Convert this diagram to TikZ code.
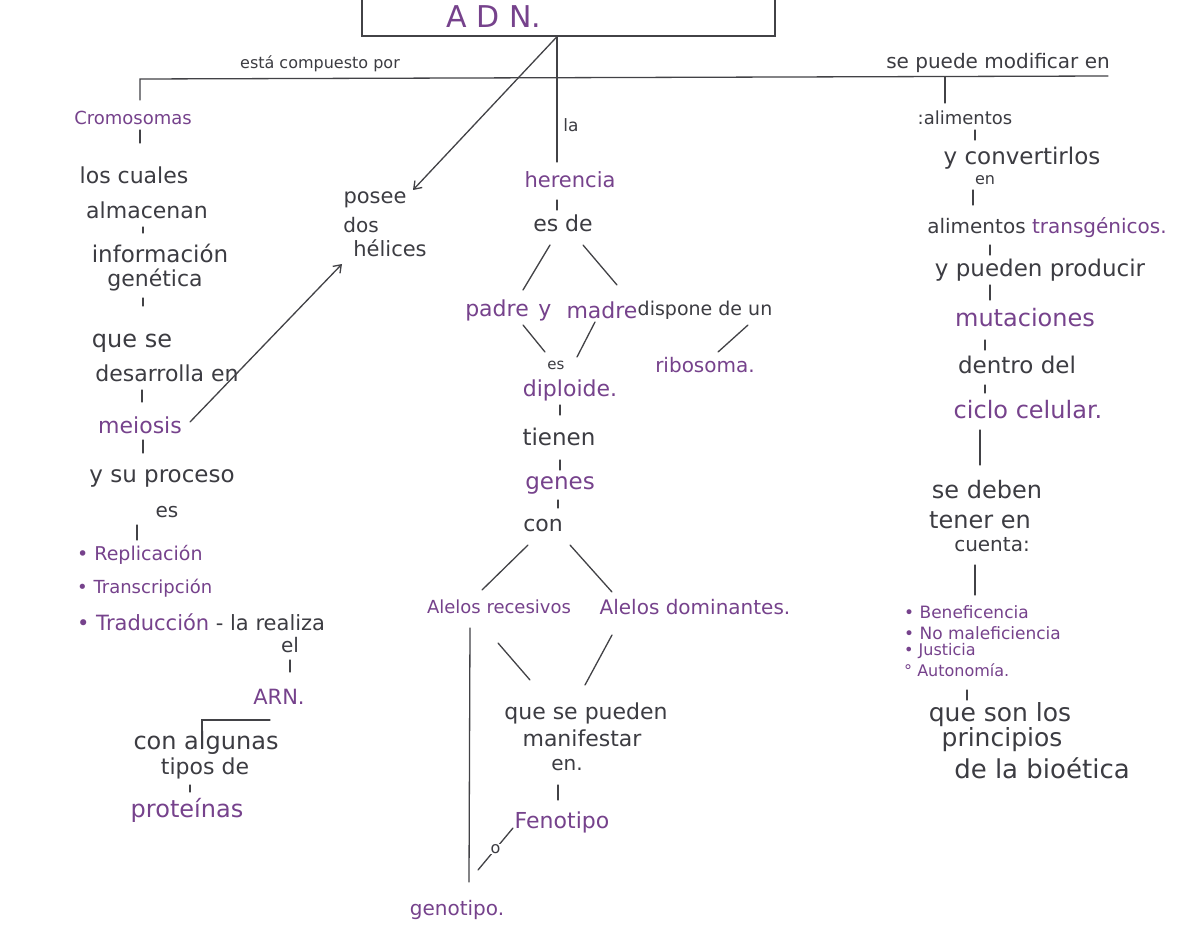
\documentclass[tikz,border=0pt]{standalone}
\usepackage{fontspec}
\setmainfont{DejaVu Sans}
\usetikzlibrary{arrows.meta,calc}
\definecolor{purp}{RGB}{118,66,140}
\definecolor{ink}{RGB}{60,60,66}
\definecolor{pen}{RGB}{66,66,70}
\begin{document}
\begin{tikzpicture}[x=1pt,y=-1pt,
  cp/.style={text=purp,font=\fontsize{#1}{#1}\selectfont,inner sep=1pt},
  cp/.default=20,
  lk/.style={text=ink,font=\fontsize{#1}{#1}\selectfont,inner sep=1pt},
  lk/.default=20,
  ln/.style={draw=pen,line width=1.3pt,line cap=round},
  arr/.style={ln,-{Straight Barb[length=7pt,width=10pt]}}]
\fill[white] (0,0) rectangle (1197,928);
\useasboundingbox (0,0) rectangle (1197,928);

% ---------- title box ----------
\node[draw=pen,line width=1.3pt,minimum width=413pt,minimum height=70pt,inner sep=0pt] (adnbox) at (568.5,1) {};
\node[cp=30] (adn) at (494,17) {A D N.};
\coordinate (adnfoot) at ($(adnbox.south)+(-11.5,0)$);

% ---------- branch labels ----------
\node[lk=16] (comp) at (320,64) {está compuesto por};
\node[lk=20] (modif) at (998,63) {se puede modificar en};

% ---------- left column ----------
\node[cp=18] (crom) at (133,118) {Cromosomas};
\node[lk=22] (cuales) at (134,175) {los cuales};
\node[lk=22] (almac) at (147,210) {almacenan};
\node[lk=23] (info) at (160,253) {información};
\node[lk=22] (genet) at (155,280) {genética};
\node[lk=24] (quese) at (132,343) {que se};
\node[lk=22] (desarr) at (167,373) {desarrolla en};
\node[cp=22] (meio) at (140,425) {meiosis};
\node[lk=23] (proc) at (162,478) {y su proceso};
\node[lk=20] (esL) at (167,512) {es};
\node[cp=19,anchor=west] (rep) at (76,555) {• Replicación};
\node[cp=18,anchor=west] (trs) at (76,588) {• Transcripción};
\node[cp=21,anchor=west] (trad) at (76,622) {• Traducción \textcolor{ink}{- la realiza}};
\node[lk=20] (el) at (290,645) {el};
\node[cp=21] (arn) at (279,697) {ARN.};
\node[lk=24] (alg) at (206,743) {con algunas};
\node[lk=22] (tipos) at (205,768) {tipos de};
\node[cp=24] (prot) at (187,810) {proteínas};
\node[lk=21] (posee) at (375,200) {posee};
\node[lk=20] (dos) at (361,225) {dos};
\node[lk=21] (hel) at (390,248) {hélices};

% ---------- middle column ----------
\node[lk=17] (la) at (571,125) {la};
\node[cp=21] (her) at (570,180) {herencia};
\node[lk=22] (esde) at (563,223) {es de};
\node[cp=22] (padre) at (497,310) {padre};
\node[cp=22] (yy) at (545,313) {y};
\node[cp=22] (madre) at (602,310) {madre};
\node[lk=19] (disp) at (705,310) {dispone de un};
\node[lk=15] (esM) at (556,365) {es};
\node[cp=22] (dipl) at (570,390) {diploide.};
\node[cp=20] (ribo) at (705,365) {ribosoma.};
\node[lk=23] (tien) at (559,437) {tienen};
\node[cp=23] (genes) at (560,485) {genes};
\node[lk=22] (con) at (543,525) {con};
\node[cp=18] (rec) at (499,607) {Alelos recesivos};
\node[cp=20] (dom) at (695,607) {Alelos dominantes.};
\node[lk=22] (qsp) at (586,713) {que se pueden};
\node[lk=22] (manif) at (582,738) {manifestar};
\node[lk=20] (enM) at (567,765) {en.};
\node[cp=22] (fen) at (562,822) {Fenotipo};
\node[cp=20] (geno) at (457,910) {genotipo.};

% ---------- right column ----------
\node[lk=18] (alim) at (965,118) {:alimentos};
\node[lk=23] (conv) at (1022,158) {y convertirlos};
\node[lk=16] (enR) at (985,180) {en};
\node[lk=20] (trans) at (1047,228) {alimentos \textcolor{purp}{transgénicos.}};
\node[lk=23] (prod) at (1040,270) {y pueden producir};
\node[cp=24] (mut) at (1025,318) {mutaciones};
\node[lk=23] (dentro) at (1017,365) {dentro del};
\node[cp=24] (ciclo) at (1028,410) {ciclo celular.};
\node[lk=24] (sedeb) at (987,490) {se deben};
\node[lk=24] (tener) at (980,520) {tener en};
\node[lk=20] (cuenta) at (992,545) {cuenta:};
\node[cp=17,anchor=west] (benef) at (903,612) {• Beneficencia};
\node[cp=17,anchor=west] (nomal) at (903,633) {• No maleficiencia};
\node[cp=16,anchor=west] (just) at (903,651) {• Justicia};
\node[cp=16,anchor=west] (auto) at (903,670) {° Autonomía.};
\node[lk=25] (qsl) at (1000,715) {que son los};
\node[lk=25] (princ) at (1002,740) {principios};
\node[lk=26] (bioet) at (1042,768) {de la bioética};

% ---------- connectors from the title ----------
\coordinate (hleft) at ($(crom)+(7,-39)$);
\coordinate (hright) at ($(modif)+(110,13)$);
\draw[ln] (hright) -- (hleft) -- ($(crom)+(7,-18)$);
\draw[ln] ($(alim)+(-20,-41)$) -- ($(alim)+(-20,-15)$);
\draw[ln] (adnfoot) -- ($(her)+(-13,-18)$);
\draw[arr] (adnfoot) -- ($(posee)+(38,-10)$);

% ---------- left column links ----------
\draw[ln] ($(crom)+(7,12)$) -- ($(cuales)+(6,-32)$);
\draw[ln] ($(almac)+(-4,17)$) -- ($(info)+(-17,-20)$);
\draw[ln] ($(genet)+(-12,18)$) -- ($(quese)+(11,-37)$);
\draw[ln] ($(desarr)+(-25,17)$) -- ($(meio)+(2,-23)$);
\draw[ln] ($(meio)+(3,15)$) -- ($(proc)+(-19,-25)$);
\draw[ln] ($(esL)+(-30,13)$) -- ($(rep.west)+(61,-15)$);
\draw[ln] ($(el)+(0,15)$) -- ($(arn)+(11,-25)$);
\draw[ln] ($(arn)+(-9,23)$) -- ($(alg)+(-4,-23)$) -- ($(alg)+(-4,-12)$);
\draw[ln] ($(tipos)+(-15,17)$) -- ($(prot)+(3,-18)$);
\draw[arr] ($(meio)+(50,-3)$) -- ($(hel)+(-48,16)$);

% ---------- middle column links ----------
\draw[ln] ($(her)+(-13,20)$) -- ($(esde)+(-6,-13)$);
\draw[ln] ($(esde)+(-13,22)$) -- ($(padre)+(26,-20)$);
\draw[ln] ($(esde)+(20,22)$) -- ($(madre)+(15,-25)$);
\draw[ln] ($(padre)+(26,15)$) -- ($(dipl)+(-25,-38)$);
\draw[ln] ($(madre)+(-7,12)$) -- ($(dipl)+(7,-33)$);
\draw[ln] ($(disp)+(43,15)$) -- ($(ribo)+(13,-13)$);
\draw[ln] ($(dipl)+(-10,15)$) -- ($(tien)+(1,-22)$);
\draw[ln] ($(tien)+(1,23)$) -- ($(genes)+(0,-15)$);
\draw[ln] ($(genes)+(-2,15)$) -- ($(con)+(15,-17)$);
\draw[ln] ($(con)+(-15,20)$) -- ($(rec)+(-17,-17)$);
\draw[ln] ($(con)+(27,20)$) -- ($(dom)+(-83,-15)$);
\draw[ln] ($(rec)+(-1,36)$) -- ($(qsp)+(-56,-33)$);
\draw[ln] ($(dom)+(-83,28)$) -- ($(qsp)+(-1,-28)$);
\draw[ln] ($(rec)+(-29,21)$) -- ($(geno)+(12,-28)$);
\draw[ln] ($(enM)+(-9,20)$) -- ($(fen)+(-4,-22)$);
\draw[ln] ($(geno)+(21,-40)$) -- node[lk=16,fill=white,inner sep=0.5pt] (oo) {o} ($(fen)+(-49,6)$);

% ---------- right column links ----------
\draw[ln] ($(alim)+(10,12)$) -- ($(conv)+(-47,-18)$);
\draw[ln] ($(enR)+(-12,10)$) -- ($(trans)+(-74,-23)$);
\draw[ln] ($(trans)+(-57,17)$) -- ($(prod)+(-50,-15)$);
\draw[ln] ($(prod)+(-50,15)$) -- ($(mut)+(-35,-18)$);
\draw[ln] ($(mut)+(-40,22)$) -- ($(dentro)+(-32,-15)$);
\draw[ln] ($(dentro)+(-32,20)$) -- ($(ciclo)+(-43,-17)$);
\draw[ln] ($(ciclo)+(-48,20)$) -- ($(sedeb)+(-7,-25)$);
\draw[ln] ($(cuenta)+(-17,20)$) -- ($(benef.west)+(72,-17)$);
\draw[ln] ($(auto.west)+(64,20)$) -- ($(qsl)+(-33,-15)$);
\end{tikzpicture}
\end{document}
